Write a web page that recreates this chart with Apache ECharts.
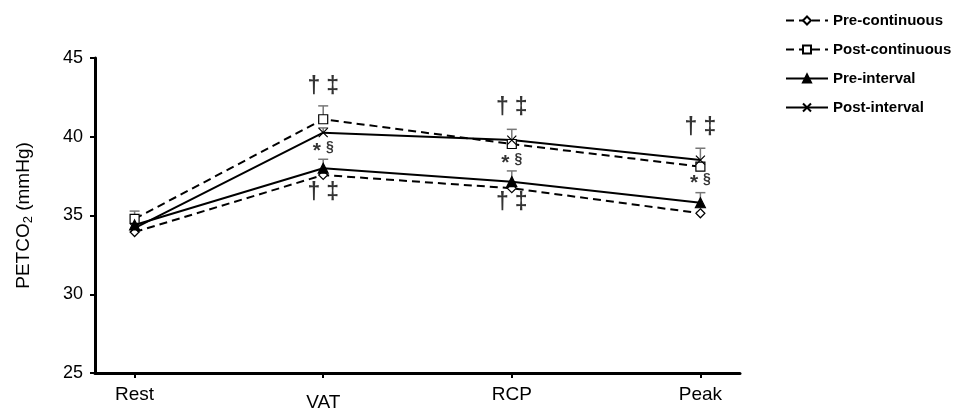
<!DOCTYPE html>
<html>
<head>
<meta charset="utf-8">
<script src="https://cdn.jsdelivr.net/npm/echarts@6/dist/echarts.min.js"></script>
<style>
  html, body { margin: 0; padding: 0; background: #fff; }
  #chart { width: 966px; height: 414px; }
</style>
</head>
<body>
<div id="chart"></div>
<script>
// 测试阶段
var stages = ['Rest', 'VAT', 'RCP', 'Peak'];

// 各组均值 (mmHg)
var preContinuous = [33.95, 37.57, 36.73, 35.14];
var postContinuous = [34.78, 41.11, 39.54, 38.10];
var preInterval = [34.40, 38.00, 37.15, 35.81];
var postInterval = [34.20, 40.26, 39.79, 38.52];

// 误差 (只画向上的一半, null = 看不到)
var postContinuousErr = [0.50, 0.85, null, null];
var preIntervalErr = [null, 0.57, 0.68, 0.64];
var postIntervalErr = [null, 0.30, 0.68, 0.75];

// 显著性标记: [阶段序号, 数值, 文字]
var marks = [
    [1, 43.18, '†‡'],
    [1, 39.29, '*§'],
    [1, 36.43, '†‡'],
    [2, 41.83, '†‡'],
    [2, 38.52, '*§'],
    [2, 35.79, '†‡'],
    [3, 40.56, '†‡'],
    [3, 37.25, '*§']
];

var yTicks = [25, 30, 35, 40, 45];

var chart = echarts.init(document.getElementById('chart'));

var toXY = function (arr) {
    return arr.map(function (v, i) { return [i, v]; });
};

var errRows = [];
var addErr = function (means, errs) {
    for (var i = 0; i < means.length; i++) {
        if (errs[i] != null) {
            errRows.push([i, means[i], means[i] + errs[i]]);
        }
    }
};
addErr(postContinuous, postContinuousErr);
addErr(preInterval, preIntervalErr);
addErr(postInterval, postIntervalErr);

var crossPath = 'path://M0,0L10,10M10,0L0,10';

var lineSeries = function (name, data, symbol, dashed, fill) {
    return {
        name: name,
        type: 'line',
        data: toXY(data),
        symbol: symbol,
        symbolSize: symbol === crossPath ? 9 : (symbol === 'triangle' ? 10 : 9),
        showSymbol: true,
        lineStyle: {
            color: '#000',
            width: 2,
            type: dashed ? [8, 5] : 'solid'
        },
        itemStyle: {
            color: fill,
            borderColor: '#000',
            borderWidth: 1.2
        },
        z: 3
    };
};

var markRich = {
    d: { fontSize: 23, fontWeight: 'bold', color: '#000', fontFamily: 'Liberation Sans', padding: [0, 3, 0, 3] },
    s: { fontSize: 21, fontWeight: 'bold', color: '#000', fontFamily: 'Liberation Sans', padding: [6, 2, 0, 0] },
    g: { fontSize: 14, fontWeight: 'bold', color: '#000', fontFamily: 'Liberation Sans', padding: [0, 0, 2, 3] }
};

var option = {
    animation: false,
    backgroundColor: '#fff',
    grid: { left: 95, right: 226, top: 58, bottom: 41 },
    legend: {
        data: ['Pre-continuous', 'Post-continuous', 'Pre-interval', 'Post-interval'],
        orient: 'vertical',
        left: 780,
        top: 8,
        itemWidth: 42,
        itemHeight: 10,
        itemGap: 14,
        textStyle: { fontSize: 15, fontWeight: 'bold', color: '#000', fontFamily: 'Liberation Sans' }
    },
    xAxis: {
        type: 'value',
        min: -0.21,
        max: 3.21,
        splitLine: { show: false },
        axisLine: { onZero: false, lineStyle: { color: '#000', width: 3 } },
        axisTick: { customValues: [0, 1, 2, 3], length: 5, lineStyle: { color: '#000', width: 2 } },
        axisLabel: {
            customValues: [0, 1, 2, 3],
            margin: 12,
            color: '#000',
            fontSize: 19,
            fontFamily: 'Liberation Sans',
            formatter: function (v) {
                var s = stages[Math.round(v)];
                return s === 'VAT' ? '{low|' + s + '}' : s;
            },
            rich: { low: { fontSize: 19, fontFamily: 'Liberation Sans', color: '#000', padding: [8, 0, 0, 0] } }
        }
    },
    yAxis: {
        type: 'value',
        min: yTicks[0],
        max: yTicks[yTicks.length - 1],
        interval: 5,
        splitLine: { show: false },
        axisLine: { show: true, onZero: false, lineStyle: { color: '#000', width: 3 } },
        axisTick: { show: true, length: 5, lineStyle: { color: '#000', width: 2 } },
        axisLabel: { margin: 12, color: '#000', fontSize: 18, fontFamily: 'Liberation Sans' },
        name: 'PETCO{sub|2} (mmHg)',
        nameLocation: 'middle',
        nameGap: 60,
        nameRotate: 90,
        nameTextStyle: {
            fontSize: 19,
            color: '#000',
            fontFamily: 'Liberation Sans',
            rich: {
                sub: { fontSize: 13, color: '#000', fontFamily: 'Liberation Sans', verticalAlign: 'bottom', padding: [9, 0, 0, 0] }
            }
        }
    },
    series: [
        {
            name: 'err',
            type: 'custom',
            data: errRows,
            z: 2,
            renderItem: function (params, api) {
                var p0 = api.coord([api.value(0), api.value(1)]);
                var p1 = api.coord([api.value(0), api.value(2)]);
                var stroke = { stroke: '#777', lineWidth: 1.5 };
                return {
                    type: 'group',
                    children: [
                        { type: 'line', shape: { x1: p0[0], y1: p0[1], x2: p1[0], y2: p1[1] }, style: stroke },
                        { type: 'line', shape: { x1: p1[0] - 5, y1: p1[1], x2: p1[0] + 5, y2: p1[1] }, style: stroke }
                    ]
                };
            }
        },
        lineSeries('Pre-continuous', preContinuous, 'diamond', true, '#fff'),
        lineSeries('Post-continuous', postContinuous, 'rect', true, '#fff'),
        lineSeries('Pre-interval', preInterval, 'triangle', false, '#000'),
        lineSeries('Post-interval', postInterval, crossPath, false, 'none'),
        {
            name: 'marks',
            type: 'scatter',
            symbolSize: 0,
            data: marks.map(function (m) { return { value: [m[0], m[1]], name: m[2] }; }),
            label: {
                show: true,
                position: 'inside',
                formatter: function (p) {
                    return p.name === '*§' ? '{s|*}{g|§}' : '{d|†}{d|‡}';
                },
                rich: markRich
            },
            z: 5
        }
    ]
};

chart.setOption(option);
</script>
</body>
</html>
